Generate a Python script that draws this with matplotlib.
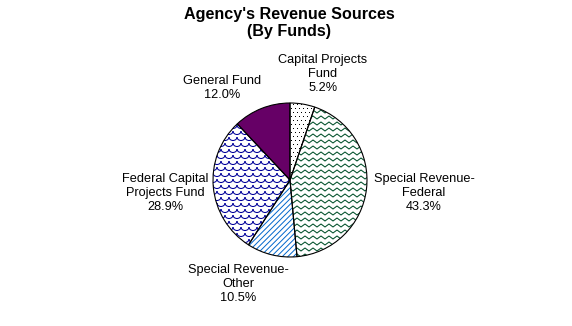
import matplotlib
matplotlib.use('Agg')
import matplotlib.pyplot as plt
import numpy as np
from matplotlib.patches import Wedge, Arc
from matplotlib.lines import Line2D

# data
funds = ['Capital Projects\nFund', 'Special Revenue-\nFederal', 'Special Revenue-\nOther',
         'Federal Capital\nProjects Fund', 'General Fund']
shares = [5.2, 43.3, 10.5, 28.9, 12.0]

# label centres, offset from pie centre in pixels
label_offsets = [(33, 106), (134, -13), (-52, -104), (-125, -13), (-68, 92)]

plt.rcParams['font.family'] = ['Liberation Sans', 'DejaVu Sans']
plt.rcParams['hatch.linewidth'] = 0.7

fig = plt.figure(figsize=(5.72, 3.26), dpi=100)
ax = fig.add_axes([0, 0, 1, 1])

R = 77
wedges, _ = ax.pie(shares, radius=R, startangle=90, counterclock=False,
                   colors=['white', 'white', 'white', 'white', '#660066'],
                   wedgeprops=dict(edgecolor='none', linewidth=0))

# axes in pixel units, pie centre at (290, 180) from top-left
ax.set_xlim(-290, 282)
ax.set_ylim(-146, 180)
ax.axis('off')


def dots(w, color='black'):
    xs, ys = [], []
    for j, y in enumerate(np.arange(-R, R + 1, 4)):
        off = 2 if j % 2 else 0
        for x in np.arange(-R + off, R + 1, 4):
            xs.append(x)
            ys.append(y)
    pts, = ax.plot(xs, ys, ',', color=color, zorder=3)
    pts.set_clip_path(w)


def zigzag(w, color):
    for y0 in np.arange(-R - 6, R + 6, 6):
        xs = np.arange(-R - 8, R + 9, 4)
        ys = y0 + 3 * (np.arange(len(xs)) % 2)
        ln = Line2D(xs, ys, color=color, lw=0.75, zorder=3)
        ax.add_line(ln)
        ln.set_clip_path(w)


def scallops(w, color):
    for j, y0 in enumerate(np.arange(-R - 6, R + 8, 6)):
        off = 4 if j % 2 else 0
        for x0 in np.arange(-R - 8 + off, R + 9, 8):
            a = Arc((x0, y0), 8, 7, theta1=180, theta2=360, color=color, lw=0.75, zorder=3)
            ax.add_patch(a)
            a.set_clip_path(w)


def diag(w, color):
    h = Wedge(w.center, w.r, w.theta1, w.theta2, facecolor='none', edgecolor=color,
              hatch='//////', linewidth=0, zorder=3)
    ax.add_patch(h)


dots(wedges[0])
zigzag(wedges[1], '#00502a')
diag(wedges[2], '#0066cc')
scallops(wedges[3], '#000099')

# outlines on top
for w in wedges:
    ax.add_patch(Wedge(w.center, w.r, w.theta1, w.theta2, facecolor='none',
                       edgecolor='black', linewidth=0.8, zorder=4))

for name, val, (dx, dy) in zip(funds, shares, label_offsets):
    ax.text(dx, dy, '%s\n%.1f%%' % (name, val), ha='center', va='center',
            fontsize=9.2, linespacing=1.2, color='black')

ax.text(-1, 157, "Agency's Revenue Sources\n(By Funds)", ha='center', va='center',
        fontsize=11.6, fontweight='bold', linespacing=1.2)

fig.savefig('out.png', dpi=100)
